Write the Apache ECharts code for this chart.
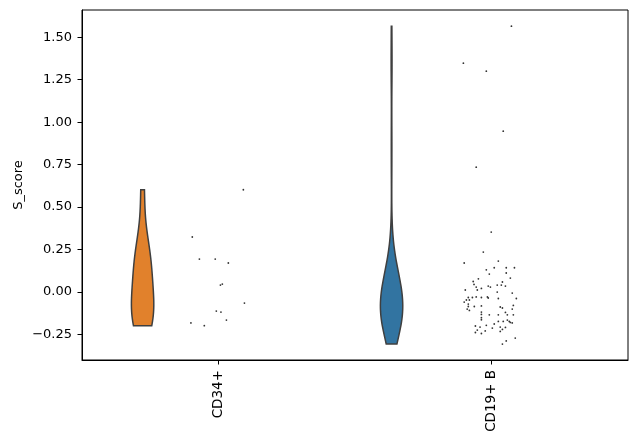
<!DOCTYPE html>
<html>
<head>
<meta charset="utf-8">
<script src="https://cdn.jsdelivr.net/npm/echarts@6/dist/echarts.min.js"></script>
<style>html,body{margin:0;padding:0;background:#fff}#c{width:634px;height:445px}</style>
</head>
<body>
<div id="c"></div>
<script>
// ---- data ----
const categories = ['CD34+', 'CD19+ B'];
const yTicks = [-0.25, 0, 0.25, 0.5, 0.75, 1.0, 1.25, 1.5];

const cd34Values = [0.602, 0.324, 0.194, 0.194, 0.171, 0.041, 0.047, -0.065, -0.112, -0.118, -0.165, -0.182, -0.198];
const cd34Jitter = [0.091, -0.096, -0.070, -0.012, 0.036, 0.007, 0.014, 0.095, -0.008, 0.009, 0.029, -0.101, -0.052];

const cd19Values = [1.565, 1.347, 1.300, 0.947, 0.735, 0.353, 0.235, 0.171, 0.182, 0.131,
  0.143, 0.143, 0.143, 0.106, 0.112, 0.078, 0.082, 0.062, 0.059, 0.045,
  0.029, 0.021, 0.035, 0.029, 0.041, 0.041, 0.035, 0.012, 0.012, 0.000,
  -0.006, -0.032, -0.032, -0.029, -0.032, -0.029, -0.035, -0.047, -0.047, -0.059,
  -0.071, -0.038, -0.038, -0.082, -0.079, -0.085, -0.100, -0.108, -0.085, -0.088,
  -0.094, -0.100, -0.118, -0.132, -0.134, -0.134, -0.120, -0.134, -0.134, -0.151,
  -0.165, -0.173, -0.179, -0.182, -0.173, -0.173, -0.163, -0.188, -0.212, -0.200,
  -0.206, -0.206, -0.208, -0.196, -0.238, -0.224, -0.244, -0.229, -0.232, -0.220,
  -0.271, -0.288, -0.306];
const cd19Jitter = [0.073, -0.103, -0.019, 0.043, -0.056, -0.001, -0.030, -0.100, 0.025, -0.019,
  0.010, 0.054, 0.084, -0.008, 0.054, -0.048, 0.069, -0.067, 0.040, -0.064,
  -0.056, -0.037, -0.012, -0.004, 0.021, 0.036, 0.051, -0.096, -0.052, 0.021,
  0.076, -0.085, -0.070, -0.056, -0.037, -0.015, -0.012, -0.092, -0.081, -0.100,
  -0.085, 0.025, 0.091, -0.037, 0.080, -0.085, -0.089, -0.081, -0.063, 0.032,
  0.040, 0.076, -0.037, -0.037, -0.008, 0.025, 0.051, 0.058, 0.080, -0.037,
  0.058, 0.065, 0.069, 0.076, 0.025, 0.043, -0.037, 0.010, 0.003, -0.059,
  -0.042, 0.032, 0.051, -0.019, -0.059, -0.052, -0.037, -0.023, 0.032, 0.040,
  0.087, 0.054, 0.040];

// ---- layout / style (not data) ----
const violinOffset = [-0.278, -0.366];   // violin centre relative to category, in category units
const violinHalfWidth = 0.041;            // in category units
const violinColors = ['#e1812c', '#3274a1'];
const FONT = 'DejaVu Sans';
const FSX = 13.5;
const FSY = 13;

const groups = [cd34Values, cd19Values];
const jitters = [cd34Jitter, cd19Jitter];

// gaussian KDE (Scott's rule), cut = 0, scaled to equal width
function kde(vals) {
  const n = vals.length;
  const mean = vals.reduce((a, b) => a + b, 0) / n;
  const sd = Math.sqrt(vals.reduce((a, b) => a + (b - mean) * (b - mean), 0) / (n - 1));
  const bw = Math.pow(n, -1 / 5) * sd;
  const lo = Math.min(...vals), hi = Math.max(...vals);
  const out = [];
  const G = 100;
  for (let i = 0; i < G; i++) {
    const y = lo + (hi - lo) * i / (G - 1);
    let d = 0;
    for (const v of vals) { const z = (y - v) / bw; d += Math.exp(-0.5 * z * z); }
    out.push([y, d]);
  }
  const mx = Math.max(...out.map(p => p[1]));
  return out.map(p => [p[0], p[1] / mx]);
}
const densities = groups.map(kde);

const violinData = groups.map((g, i) => [i + violinOffset[i], Math.min(...g), i]);

const scatterSeries = groups.map((g, i) => ({
  type: 'scatter',
  xAxisIndex: 1,
  yAxisIndex: 0,
  symbolSize: 1.8,
  itemStyle: { color: '#000' },
  silent: true,
  z: 5,
  data: g.map((v, k) => [i + jitters[i][k], v])
}));

const chart = echarts.init(document.getElementById('c'), null, { renderer: 'canvas' });
chart.setOption({
  animation: false,
  backgroundColor: '#fff',
  grid: { left: 82, right: 6, top: 10, bottom: 85, show: true, borderColor: '#000', borderWidth: 1, backgroundColor: 'transparent' },
  xAxis: [
    {
      type: 'category',
      data: categories,
      boundaryGap: true,
      position: 'bottom',
      axisLine: { show: true, onZero: false, lineStyle: { color: '#000', width: 1 } },
      axisTick: { show: true, alignWithLabel: true, length: 4.5, lineStyle: { color: '#000', width: 1 } },
      axisLabel: { rotate: 90, color: '#000', fontFamily: FONT, fontSize: FSX, margin: 10 },
      splitLine: { show: false }
    },
    {
      type: 'value',
      min: -0.5,
      max: 1.5,
      show: false,
      position: 'bottom',
      axisLine: { show: false, onZero: false },
      splitLine: { show: false }
    }
  ],
  yAxis: {
    type: 'value',
    min: -0.4,
    max: 1.66,
    position: 'left',
    name: 'S_score',
    nameLocation: 'middle',
    nameGap: 57,
    nameMoveOverlap: false,
    nameRotate: 90,
    nameTextStyle: { color: '#000', fontFamily: FONT, fontSize: FSY },
    axisLine: { show: true, onZero: false, lineStyle: { color: '#000', width: 1 } },
    axisTick: { show: true, length: 4.5, lineStyle: { color: '#000', width: 1 }, customValues: yTicks },
    axisLabel: {
      color: '#000', fontFamily: FONT, fontSize: FSY, margin: 10,
      customValues: yTicks,
      formatter: v => (v < 0 ? '\u2212' : '') + Math.abs(v).toFixed(2)
    },
    splitLine: { show: false }
  },
  series: [
    {
      type: 'custom',
      xAxisIndex: 1,
      yAxisIndex: 0,
      silent: true,
      z: 3,
      encode: { x: 0, y: 1 },
      data: violinData,
      renderItem: function (params, api) {
        const gi = api.value(2);
        const xc = api.value(0);
        const dens = densities[gi];
        const pts = [];
        for (const [y, d] of dens) pts.push(api.coord([xc - d * violinHalfWidth, y]));
        for (let k = dens.length - 1; k >= 0; k--) pts.push(api.coord([xc + dens[k][1] * violinHalfWidth, dens[k][0]]));
        return {
          type: 'polygon',
          shape: { points: pts },
          style: { fill: violinColors[gi], stroke: '#3f3f3f', lineWidth: 1.5 }
        };
      }
    },
    ...scatterSeries
  ]
});
</script>
</body>
</html>
